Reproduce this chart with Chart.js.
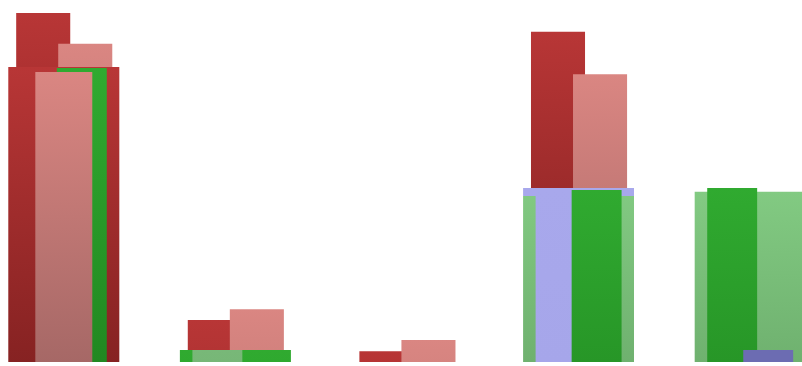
<!DOCTYPE html>
<html>
<head>
<meta charset="utf-8">
<script src="https://cdn.jsdelivr.net/npm/chart.js@4/dist/chart.umd.min.js"></script>
<style>
  html, body { margin: 0; padding: 0; background: #ffffff; overflow: hidden; width: 802px; height: 366px; }
  #wrap { position: absolute; left: -22px; top: 0; width: 858px; height: 366px; }
</style>
</head>
<body>
<div id="wrap"><canvas id="c"></canvas></div>
<script>
// ---- data ----
const categories = ['1', '2', '3', '4', '5'];
const baseValues = [81.5, 3.3, 0, 48.1, 47.0];
const midLeftValues = [null, 3.3, null, 48.1, 48.1];
const midRightValues = [81.2, null, null, 47.5, 3.3];
const midCenterValues = [80.1, null, null, null, null];
const darkRedValues = [14.9, 8.3, 3.0, 43.1, null];
const lightRedValues = [6.4, 11.3, 6.1, 31.4, null];

// ---- styles ----
const palette = {
  darkRed: ['#b83636', '#862222'],
  lightRed: ['#da8682', '#a66866'],
  lightGreen: ['#82ca82', '#62a062'],
  darkGreen: ['#30aa30', '#218821'],
  mutedGreen: ['#78b878', '#66a466'],
  lavender: ['#a8a8ec', '#a4a4e8'],
  blue: ['#6c6cb2', '#6262a8']
};
const baseColors = ['darkRed', 'darkGreen', 'lightGreen', 'lightGreen', 'lightGreen'];
const midLeftColors = [null, 'mutedGreen', null, 'lavender', 'darkGreen'];
const midRightColors = ['darkGreen', null, null, 'darkGreen', 'blue'];
const midCenterColors = ['lightRed', null, null, null, null];
const fullShadeHeight = 290; // px over which a bar reaches its darkest bottom tone

function hex(c) { return [1, 3, 5].map(k => parseInt(c.slice(k, k + 2), 16)); }
function mix(a, b, t) {
  const A = hex(a), B = hex(b);
  return 'rgb(' + A.map((v, k) => Math.round(v + (B[k] - v) * t)).join(',') + ')';
}
const gradCache = {};
// vertical gradient local to one bar, from its top value down to its bottom value
function barFill(ctx, key, lo, hi) {
  if (!key || hi === null || hi === undefined) return 'rgba(0,0,0,0)';
  const chart = ctx.chart;
  const y = chart.scales.y;
  const [c1, c2] = palette[key];
  if (!chart.chartArea || !y) return c1;
  const top = y.getPixelForValue(hi), bottom = y.getPixelForValue(lo);
  const ck = key + ':' + top.toFixed(1) + ':' + bottom.toFixed(1);
  if (!gradCache[ck]) {
    const g = chart.ctx.createLinearGradient(0, top, 0, Math.max(bottom, top + 1));
    g.addColorStop(0, c1);
    g.addColorStop(1, mix(c1, c2, Math.min(1, (bottom - top) / fullShadeHeight)));
    gradCache[ck] = g;
  }
  return gradCache[ck];
}
function columnFill(values, colors) {
  return (ctx) => ctx.dataIndex === undefined ? 'rgba(0,0,0,0)'
    : barFill(ctx, colors[ctx.dataIndex], 0, values[ctx.dataIndex]);
}
function floatFill(bases, heights, key) {
  return (ctx) => {
    const i = ctx.dataIndex;
    if (i === undefined || heights[i] === null) return 'rgba(0,0,0,0)';
    return barFill(ctx, key, bases[i], bases[i] + heights[i]);
  };
}
function floating(bases, heights) {
  return heights.map((h, i) => (h === null ? null : [bases[i], bases[i] + h]));
}

// hidden category axis, optionally nudged sideways by a fraction of a category
const catAxis = (shift) => ({
  type: 'category', axis: 'x', offset: true, display: false,
  afterDataLimits: (scale) => { scale.min = -shift; scale.max = categories.length - 1; }
});

new Chart(document.getElementById('c'), {
  type: 'bar',
  data: {
    labels: categories,
    datasets: [
      { label: 'base', data: baseValues, xAxisID: 'xb', order: 6, grouped: false,
        backgroundColor: columnFill(baseValues, baseColors),
        borderColor: '#a8a8ec',
        borderWidth: (ctx) => ctx.dataIndex === 3 ? { top: 8, right: 0, bottom: 0, left: 0 } : 0,
        categoryPercentage: 1, barPercentage: 0.647 },
      { label: 'midLeft', data: midLeftValues, xAxisID: 'xmL', order: 5, grouped: false,
        backgroundColor: columnFill(midLeftValues, midLeftColors),
        categoryPercentage: 1, barPercentage: 0.291 },
      { label: 'midRight', data: midRightValues, xAxisID: 'xmR', order: 4, grouped: false,
        backgroundColor: columnFill(midRightValues, midRightColors),
        categoryPercentage: 1, barPercentage: 0.291 },
      { label: 'midCenter', data: midCenterValues, xAxisID: 'xb', order: 3, grouped: false,
        backgroundColor: columnFill(midCenterValues, midCenterColors),
        categoryPercentage: 1, barPercentage: 0.332 },
      { label: 'darkRed', data: floating(baseValues, darkRedValues), xAxisID: 'xrL', order: 2, grouped: false,
        backgroundColor: floatFill(baseValues, darkRedValues, 'darkRed'),
        categoryPercentage: 1, barPercentage: 0.315 },
      { label: 'lightRed', data: floating(baseValues, lightRedValues), xAxisID: 'xrR', order: 1, grouped: false,
        backgroundColor: floatFill(baseValues, lightRedValues, 'lightRed'),
        categoryPercentage: 1, barPercentage: 0.315 }
    ]
  },
  options: {
    responsive: true,
    maintainAspectRatio: false,
    animation: false,
    devicePixelRatio: 1,
    layout: { padding: { top: 0, left: 0, right: 0, bottom: 4 } },
    plugins: { legend: { display: false }, tooltip: { enabled: false } },
    scales: {
      xb: catAxis(0),
      xmL: catAxis(-0.105),
      xmR: catAxis(0.105),
      xrL: catAxis(-0.12),
      xrR: catAxis(0.125),
      y: { type: 'linear', min: 0, max: 100, display: false }
    }
  }
});
</script>
</body>
</html>
